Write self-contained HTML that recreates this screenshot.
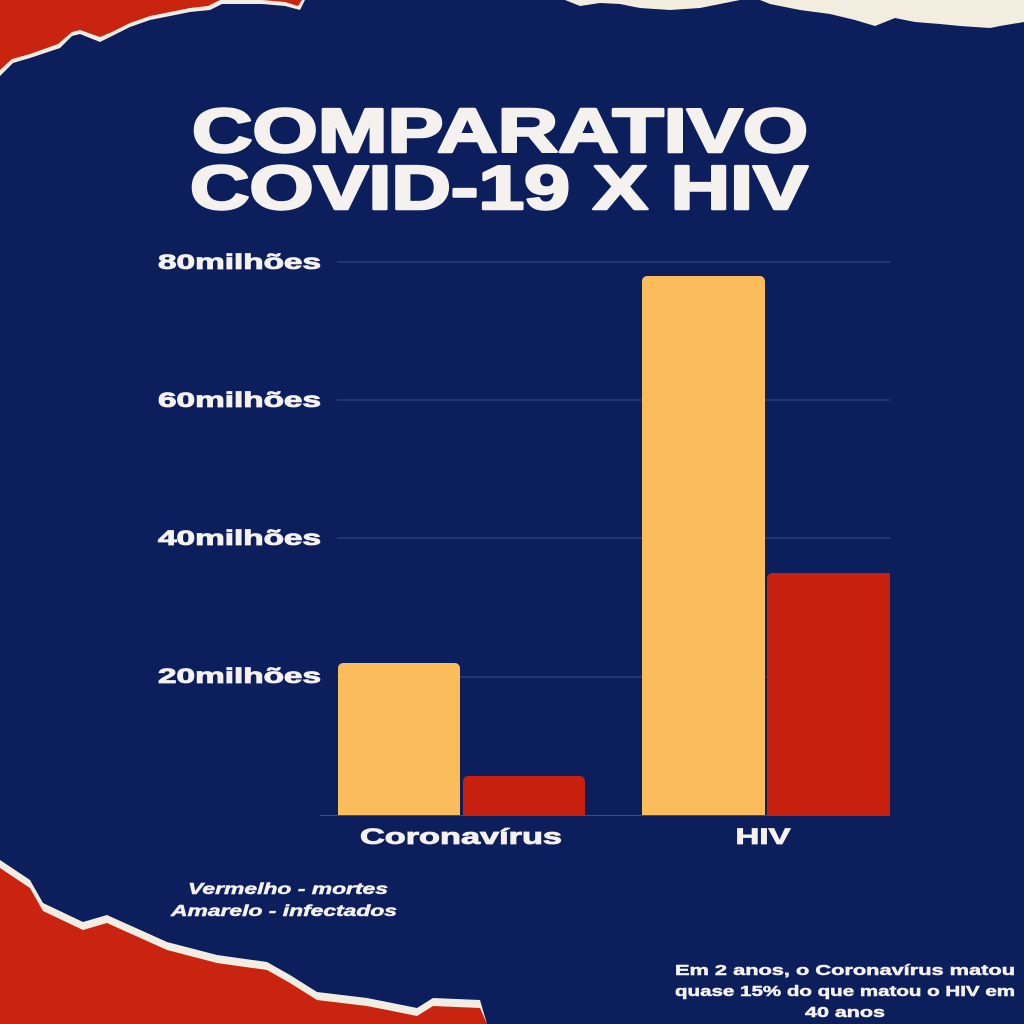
<!DOCTYPE html>
<html><head><meta charset="utf-8"><style>
html,body{margin:0;padding:0;background:#0d1e5c;}
svg{display:block}
text{font-family:"Liberation Sans","DejaVu Sans",sans-serif;font-weight:bold;fill:#f4f1ee}
</style></head><body>
<svg width="1024" height="1024" viewBox="0 0 1024 1024" xmlns="http://www.w3.org/2000/svg">
<rect width="1024" height="1024" fill="#0d1e5c"/>
<!-- top-left red torn paper -->
<polygon points="0,0 305,0 300,10 285,6 262,4 240,4 222,4 210,10 190,12 175,15 150,20 130,27 112,36 100,42 80,34 72,36 60,48 30,58 13,63 0,76" fill="#f2ede2"/>
<polygon points="0,0 302,0 298,6 285,2 262,0 240,0 220,0 208,6 190,8 175,11 150,16 130,23 112,32 100,37 80,30 72,32 58,44 30,54 12,59 0,70" fill="#c92410"/>
<!-- top-right cream -->
<polygon points="565,0 1024,0 1024,22 1000,26 990,28 960,26 940,24 915,22 895,18 875,26 855,20 830,14 800,10 770,4 760,0 740,0 720,4 700,8 670,10 640,8 620,4 600,3 580,6" fill="#f3ede0"/>
<!-- bottom-left red torn paper -->
<polygon points="0,860 30,880 43,903 83,922 107,915 167,942 217,955 267,962 290,975 317,992 367,998 417,1008 433,998 480,1000 487,1024 0,1024" fill="#f2ede2"/>
<polygon points="0,868 30,888 43,911 83,930 107,923 167,950 217,963 267,970 290,983 317,1000 367,1006 417,1016 433,1006 480,1008 487,1024 0,1024" fill="#c92410"/>
<!-- title -->
<g stroke="#f4f1ee" stroke-width="2.5" stroke-linejoin="round">
<text x="500" y="152" font-size="62" text-anchor="middle" textLength="616" lengthAdjust="spacingAndGlyphs">COMPARATIVO</text>
<text x="499" y="209" font-size="62" text-anchor="middle" textLength="618" lengthAdjust="spacingAndGlyphs">COVID-19 X HIV</text>
</g>
<!-- grid -->
<g stroke="#3a4b86" stroke-width="1">
<line x1="337" y1="262" x2="890" y2="262"/>
<line x1="337" y1="400" x2="890" y2="400"/>
<line x1="337" y1="538" x2="890" y2="538"/>
<line x1="337" y1="677" x2="890" y2="677"/>
<line x1="320" y1="815.5" x2="890" y2="815.5"/>
</g>
<g font-size="21" stroke="#f4f1ee" stroke-width="0.8">
<text x="158" y="269" textLength="163" lengthAdjust="spacingAndGlyphs">80milhões</text>
<text x="158" y="407" textLength="163" lengthAdjust="spacingAndGlyphs">60milhões</text>
<text x="158" y="545" textLength="163" lengthAdjust="spacingAndGlyphs">40milhões</text>
<text x="158" y="683" textLength="163" lengthAdjust="spacingAndGlyphs">20milhões</text>
</g>
<!-- bars -->
<path d="M338,815 V668 a5,5 0 0 1 5,-5 H455 a5,5 0 0 1 5,5 V815Z" fill="#fbbd5b"/>
<path d="M463,815 V781 a5,5 0 0 1 5,-5 H580 a5,5 0 0 1 5,5 V815Z" fill="#c8200f"/>
<path d="M642,815 V281 a5,5 0 0 1 5,-5 H760 a5,5 0 0 1 5,5 V815Z" fill="#fbbd5b"/>
<path d="M767,815 V578 a5,5 0 0 1 5,-5 H890 V815Z" fill="#c8200f"/>
<!-- x labels -->
<g stroke="#f4f1ee" stroke-width="0.8">
<text x="461" y="844" font-size="22" text-anchor="middle" textLength="202" lengthAdjust="spacingAndGlyphs">Coronavírus</text>
<text x="763" y="844" font-size="22" text-anchor="middle" textLength="55" lengthAdjust="spacingAndGlyphs">HIV</text>
</g>
<!-- legend -->
<g font-size="16" font-style="italic" stroke="#f4f1ee" stroke-width="0.5">
<text x="288" y="894" text-anchor="middle" textLength="200" lengthAdjust="spacingAndGlyphs">Vermelho - mortes</text>
<text x="284" y="916" text-anchor="middle" textLength="226" lengthAdjust="spacingAndGlyphs">Amarelo - infectados</text>
</g>
<g font-size="15" stroke="#f4f1ee" stroke-width="0.5">
<text x="845" y="975" text-anchor="middle" textLength="340" lengthAdjust="spacingAndGlyphs">Em 2 anos, o Coronavírus matou</text>
<text x="845" y="996" text-anchor="middle" textLength="340" lengthAdjust="spacingAndGlyphs">quase 15% do que matou o HIV em</text>
<text x="845" y="1017" text-anchor="middle" textLength="80" lengthAdjust="spacingAndGlyphs">40 anos</text>
</g>
</svg>
</body></html>
